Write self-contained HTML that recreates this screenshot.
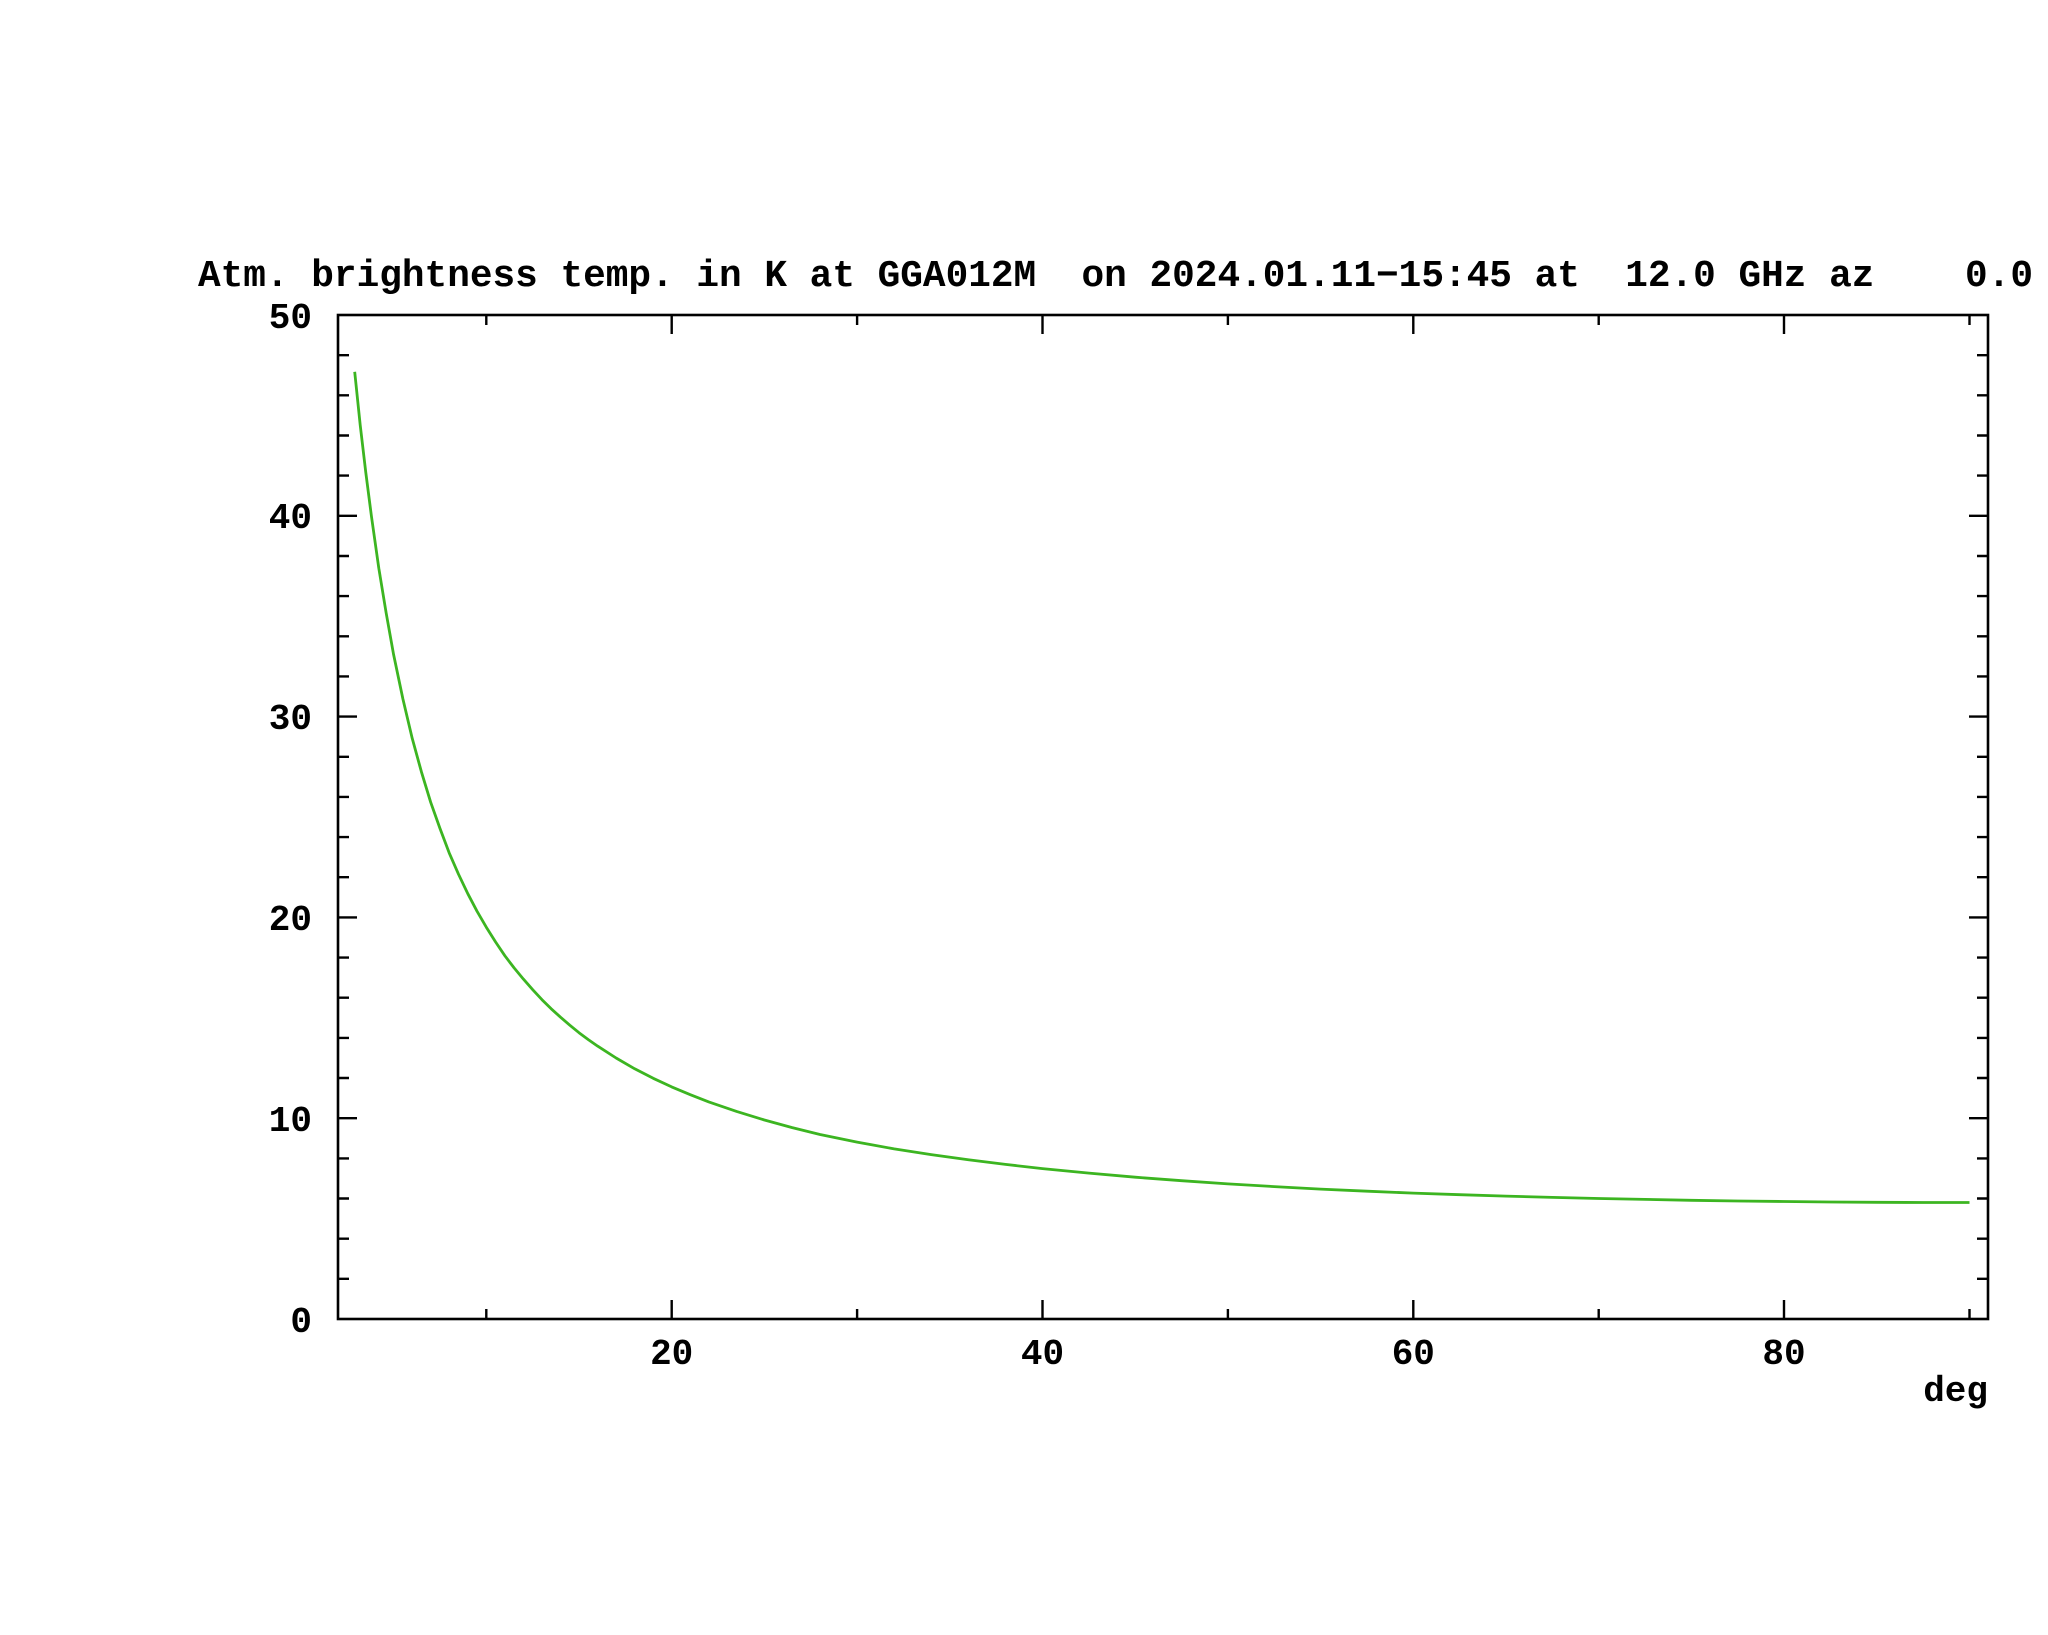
<!DOCTYPE html>
<html>
<head>
<meta charset="utf-8">
<style>
html,body{margin:0;padding:0;background:#fff;}
svg{display:block;}
text{font-family:"Liberation Mono","DejaVu Sans Mono",monospace;fill:#000;font-weight:bold;}
</style>
</head>
<body>
<svg width="2048" height="1635" viewBox="0 0 2048 1635" xmlns="http://www.w3.org/2000/svg">
<rect width="2048" height="1635" fill="#fff"/>
<!-- title -->
<text x="198" y="286" font-size="38" textLength="1835" lengthAdjust="spacingAndGlyphs" xml:space="preserve">Atm. brightness temp. in K at GGA012M  on 2024.01.11−15:45 at  12.0 GHz az    0.0</text>

<!-- axes box -->
<rect x="338" y="315" width="1650" height="1004" fill="none" stroke="#000" stroke-width="2.6"/>

<g stroke="#000" stroke-width="2.4">
<path d="M671.7 1319v-19M1042.5 1319v-19M1413.3 1319v-19M1784 1319v-19
M671.7 315v19M1042.5 315v19M1413.3 315v19M1784 315v19"/>
<path d="M486.3 1319v-10M857.1 1319v-10M1227.9 1319v-10M1598.7 1319v-10M1969.5 1319v-10
M486.3 315v10M857.1 315v10M1227.9 315v10M1598.7 315v10M1969.5 315v10"/>
<path d="M338 1118.2h19M338 917.4h19M338 716.6h19M338 515.8h19
M1988 1118.2h-19M1988 917.4h-19M1988 716.6h-19M1988 515.8h-19"/>
<path d="M338 1278.8h11M338 1238.7h11M338 1198.5h11M338 1158.4h11
M338 1078.0h11M338 1037.9h11M338 997.7h11M338 957.6h11
M338 877.2h11M338 837.1h11M338 796.9h11M338 756.8h11
M338 676.4h11M338 636.3h11M338 596.1h11M338 556.0h11
M338 475.6h11M338 435.5h11M338 395.3h11M338 355.2h11
M1988 1278.8h-11M1988 1238.7h-11M1988 1198.5h-11M1988 1158.4h-11
M1988 1078.0h-11M1988 1037.9h-11M1988 997.7h-11M1988 957.6h-11
M1988 877.2h-11M1988 837.1h-11M1988 796.9h-11M1988 756.8h-11
M1988 676.4h-11M1988 636.3h-11M1988 596.1h-11M1988 556.0h-11
M1988 475.6h-11M1988 435.5h-11M1988 395.3h-11M1988 355.2h-11"/>
</g>

<!-- y tick labels -->
<g font-size="36" text-anchor="end">
<text x="312" y="328">50</text>
<text x="312" y="528">40</text>
<text x="312" y="729">30</text>
<text x="312" y="930">20</text>
<text x="312" y="1131">10</text>
<text x="312" y="1332">0</text>
</g>

<!-- x tick labels -->
<g font-size="36" text-anchor="middle">
<text x="671.7" y="1364">20</text>
<text x="1042.5" y="1364">40</text>
<text x="1413.3" y="1364">60</text>
<text x="1784" y="1364">80</text>
</g>
<text x="1988" y="1401" font-size="36" text-anchor="end">deg</text>

<!-- curve -->
<polyline fill="none" stroke="#3cb521" stroke-width="2.8" stroke-linejoin="round" stroke-linecap="butt"
points="354.7,371.8 360.2,425.0 365.8,472.6 371.4,516.0 378.8,568.2 386.2,613.2 393.6,654.6 402.9,698.9 412.2,738.3 421.4,771.8 430.7,802.3 440.0,828.5 449.2,852.9 458.5,874.2 467.8,893.7 477.0,911.2 486.3,927.2 495.6,942.0 504.9,955.8 514.1,967.9 523.4,979.1 532.7,989.7 542.0,999.7 551.2,1008.8 560.5,1017.2 569.8,1025.2 579.0,1032.7 588.3,1039.6 597.6,1046.1 616.1,1058.0 634.7,1068.8 653.2,1078.3 671.7,1086.9 690.3,1094.7 708.8,1101.9 736.6,1111.4 764.4,1120.0 792.2,1127.6 820.0,1134.5 857.1,1142.1 894.2,1148.9 931.2,1154.6 968.3,1159.8 1005.4,1164.4 1042.5,1168.6 1089.0,1173.1 1135.2,1177.2 1181.5,1180.7 1227.9,1183.9 1274.3,1186.6 1320.6,1189.1 1367.0,1191.2 1413.3,1193.1 1459.7,1194.7 1506.0,1196.1 1552.4,1197.4 1598.7,1198.5 1645.0,1199.4 1691.3,1200.3 1737.7,1201.0 1784.0,1201.5 1830.3,1202.0 1876.7,1202.3 1923.1,1202.5 1969.5,1202.5"/>
</svg>
</body>
</html>
